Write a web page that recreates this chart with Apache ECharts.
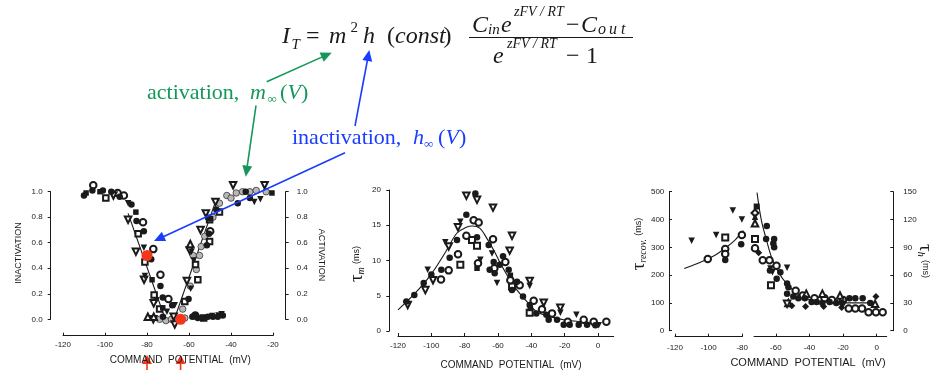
<!DOCTYPE html>
<html><head><meta charset="utf-8">
<script src="https://cdn.jsdelivr.net/npm/echarts@6/dist/echarts.min.js"></script>
<style>html,body{margin:0;padding:0;background:#fff}#c{width:935px;height:370px}</style>
</head><body><div id="c"></div>
<script>
// ---------- Panel 1: steady-state inactivation / activation ----------
const p1Ticks = [-120, -100, -80, -60, -40, -20];
const p1YTicks = [0, 0.2, 0.4, 0.6, 0.8, 1.0];
const p1FilledCircle = [[-110,0.97],[-106,1.01],[-101,1.01],[-97,1.0],[-93,0.96],[-87.4,0.90],[-85,0.77],[-81.5,0.69],[-78,0.47],[-73.6,0.26],[-72.5,0.17],[-68,0.11],
  [-72.4,0.02],[-58.4,0.02],[-55.8,0.01],[-53.4,0.01],[-51,0.02],[-48.6,0.02],[-46.3,0.02],[-43.9,0.03],
  [-60.2,0.16],[-51.5,0.58],[-50.5,0.67],[-50.2,0.79],[-47,0.86],[-36.8,0.91],[-31,0.95],[-33,1.0]];
const p1OpenCircle = [[-105.6,1.05],[-94,0.99],[-91,0.97],[-81.9,0.76],[-77,0.55],[-73.6,0.35],[-69.8,0.16],[-49.9,0.69],[-57,0.03]];
const p1OpenSquare = [[-99.6,0.95],[-84.2,0.67],[-81,0.45],[-76.6,0.19],[-74,0.08],[-62,0.14],[-55.8,0.31],[-56.9,0.43],[-50.2,0.61],[-50.2,0.78],[-45.5,0.84],[-53,0.01]];
const p1FilledSquare = [[-109,0.99],[-102.4,1.0],[-85.3,0.84],[-77.6,0.31],[-72.5,0.09],[-51,0.80],[-20.5,0.99],[-49,0.03],[-57,0.03]];
const p1FilledTriDown = [[-89,0.91],[-81.5,0.56],[-81,0.34],[-75.5,0.15],[-66.8,0.11],[-59.2,0.24],[-57.8,0.46],[-58.8,0.53],[-28.9,0.92],[-26,0.94],[-46,0.03],[-44.5,0.04],[-70.5,0.06]];
const p1OpenTriDown = [[-96,0.97],[-89,0.78],[-85.3,0.53],[-81.4,0.31],[-76.8,0.125],[-66.8,-0.04],[-67.3,0.02],[-61,0.30],[-59.7,0.54],[-54.5,0.70],[-52,0.83],[-47.4,0.92],[-39,1.05],[-24,1.05],[-77,0.0]];
const p1OpenTriUp = [[-79.6,0.02],[-76.8,0.02],[-59.4,0.59]];
const p1Hatched = [[-74,0.0],[-71,-0.01],[-68.4,0.0],[-65.3,0.0],[-62,0.01],[-63,0.08],[-59.4,0.26],[-56.5,0.39],[-58,0.50],[-55,0.50],[-54.2,0.57],[-52.5,0.65],[-48.6,0.80],[-45.5,0.91],[-42,0.97],[-40,0.95],[-37.5,0.99],[-34.5,1.0],[-31,1.0],[-28,1.01],[-23.3,1.0]];
const p1Red = [[-80,0.5],[-64,0.0]];
const p1InactFit = [[-89,0.83],[-71.3,0]];
const p1ActFit = [[-67,0],[-47,0.94]];
const p1Arrows = [-80, -64];

// ---------- Panel 2: tau_m ----------
const p2Ticks = [-120, -100, -80, -60, -40, -20, 0];
const p2YTicks = [0, 5, 10, 15, 20];
const p2FilledCircle = [[-115,4.2],[-110.2,5.1],[-104.6,6.8],[-100,8.0],[-94,8.7],[-89,10.4],[-84.6,12.9],[-79,16.5],[-73.6,19.5],[-72.6,13.3],[-65.6,12.2],[-62.6,9.8],[-65,8.7],[-62,8.2],[-57,10.6],[-59,9.4],[-53.6,8.7],[-51.6,5.8],[-48.6,7.0],[-45,4.9],[-41,3.7],[-37,2.5],[-31,2.3],[-29.6,1.6],[-24.6,1.6],[-20.6,0.9],[-17,0.9],[-11.6,0.9],[-6.6,0.9],[-1.6,0.8]];
const p2OpenCircle = [[-94.2,7.3],[-89.6,8.6],[-84,10.9],[-79,13.5],[-74.6,15.7],[-71.6,15.4],[-72,9.6],[-63,13.0],[-62.2,8.9],[-55.6,9.8],[-52.6,7.2],[-47,6.5],[-38.6,4.3],[-33.6,3.1],[-27.6,2.5],[-18.2,1.3],[-8.6,1.6],[-2.6,1.3],[5,1.3]];
const p2OpenSquare = [[-82.6,9.4],[-75.6,12.9],[-72.6,12.1],[-51.6,6.3],[-41,2.6]];
const p2FilledSquare = [[-72.6,8.9],[-52.6,7.9],[-40.6,3.2]];
const p2FilledTriDown = [[-102.2,8.7],[-91.6,12.6],[-82.6,15.5],[-70.6,10.1],[-63.6,11.0],[-60.6,6.8],[-41,6.4],[-22.6,2.6],[-13,2.3],[0.4,0.8]];
const p2OpenTriDown = [[-114.2,3.7],[-103.6,5.8],[-99,7.2],[-89.6,12.0],[-84,14.7],[-79,19.2],[-72.6,18.6],[-63,17.5],[-51.6,13.5],[-53,11.4],[-41,7.1],[-32.6,4.0],[-22.6,3.3]];
const p2Fit = [[-120,3.0],[-110,5.3],[-100.6,7.9],[-92,11.0],[-84.6,13.9],[-79,14.7],[-75.6,14.9],[-71,14.6],[-66.6,13.1],[-62,11.2],[-58.6,9.6],[-53,7.3],[-48.6,5.8],[-42,4.0],[-36.6,2.7],[-28,2.0],[-20.6,1.6],[-10,1.3],[0,1.1]];

// ---------- Panel 3: tau_recov (left, ms) and tau_h (right, ms) ----------
const p3LeftTicks = [-120, -100, -80];
const p3RightTicks = [-60, -40, -20, 0];
const p3LeftYTicks = [0, 100, 200, 300, 400, 500];
const p3RightYTicks = [0, 30, 60, 90, 120, 150];
const p3RecovFilledTriDown = [[-110.1,324],[-95.5,344],[-85.6,432],[-80.2,400]];
const p3RecovOpenCircle = [[-100.5,258],[-90.1,294],[-90.1,276],[-80.2,344]];
const p3RecovOpenSquare = [[-90.1,335]];
const p3RecovFilledCircle = [[-90.1,254],[-80.6,311]];
const p3RecovFit = [[-114.5,224],[-107,241],[-100,260],[-95,276],[-89,302],[-84,328],[-79.3,360]];
const p3HFilledCircle = [[-65.4,113],[-65.8,99],[-61,99],[-61,90],[-61.5,94],[-63.5,65],[-57.3,63],[-59.5,56],[-53.3,51],[-52.5,47],[-53.3,40],[-49.6,37],[-46.6,35],[-42.7,35],[-38.7,31],[-35.7,31],[-32.3,30],[-28,31],[-24,30],[-20.5,30],[-16.2,35],[-12.7,35],[-8.3,35],[-3.8,30]];
const p3HOpenCircle = [[-72.4,89],[-67.8,76],[-63.8,76],[-59.6,70],[-48.2,43],[-44,38],[-37,35],[-31,35],[-26.6,33],[-20,33],[-16.6,24],[-12.7,24],[-8.7,24],[-4.8,20],[-0.4,20],[3.6,20]];
const p3HOpenSquare = [[-72.4,99],[-62.9,49]];
const p3HFilledSquare = [[-71.4,134]];
const p3HOpenDiamond = [[-72.4,127]];
const p3HFilledTriUp = [[-72.4,123]];
const p3HOpenTriUp = [[-72.4,116],[-41.9,40],[-32.3,40],[-21.8,38],[-0.9,29],[-52.5,30]];
const p3HFilledTriDown = [[-63.2,67],[-53.3,68],[-62,63]];
const p3HOpenTriDown = [[-53.3,29]];
const p3HFilledDiamond = [[-70.2,84],[-50.5,27],[-42.3,26],[-31.5,26],[-20.8,25],[-0.4,37]];
const p3HFit = [[-71.2,149],[-68.6,119],[-65.6,98],[-62.7,80],[-58.7,64],[-53.7,51],[-45.8,38],[-35.9,32],[-18,30],[-0.2,30]];

// ---------- chart ----------
const INK = '#1a1a1a';
const SANS = '"Liberation Sans", Arial, sans-serif';
const SERIF = '"Liberation Serif", "Times New Roman", serif';
const GREEN = '#13985a', BLUE = '#1a3cff', RED = '#f5361c';

function xAx(grid, min, max, offset, margin, ticks) {
  return { type: 'value', gridIndex: grid, min, max, offset,
    axisLine: { show: true, onZero: false, lineStyle: { color: INK, width: 1 } },
    axisTick: { show: true, inside: true, length: 3, customValues: ticks, lineStyle: { color: INK } },
    axisLabel: { customValues: ticks, fontSize: 8, margin, color: INK, fontFamily: SANS },
    splitLine: { show: false } };
}
function yAx(grid, pos, min, max, offset, margin, ticks, inside, fmt) {
  return { type: 'value', gridIndex: grid, position: pos, min, max, offset,
    axisLine: { show: true, onZero: false, lineStyle: { color: INK, width: 1 } },
    axisTick: { show: true, inside: inside, length: 3, customValues: ticks, lineStyle: { color: INK } },
    axisLabel: { customValues: ticks, fontSize: 8, margin, color: INK, fontFamily: SANS, formatter: fmt },
    splitLine: { show: false } };
}
function sc(data, xi, yi, symbol, opt) {
  opt = opt || {};
  return { type: 'scatter', data, xAxisIndex: xi, yAxisIndex: yi, symbol,
    symbolSize: opt.size || 6, symbolRotate: opt.rot || 0, clip: false, silent: true,
    z: opt.z || 2,
    itemStyle: Object.assign({ color: INK, borderColor: INK, borderWidth: symbol.indexOf('empty') === 0 ? 1 : 0, opacity: 1 }, opt.style || {}) };
}
function ln(data, xi, yi, smooth) {
  return { type: 'line', data, xAxisIndex: xi, yAxisIndex: yi, symbol: 'none', smooth: smooth || 0,
    silent: true, clip: false, z: 1, lineStyle: { color: INK, width: 1.1 } };
}
const hatch = { color: '#b8b8b8', borderColor: '#333', borderWidth: 0.8 };

const option = {
  animation: false,
  backgroundColor: '#fff',
  grid: [
    { left: 63, top: 191.7, width: 210, height: 127.6 },
    { left: 398, top: 190, width: 215.7, height: 141 },
    { left: 675, top: 191.7, width: 67.2, height: 139 },
    { left: 754, top: 191.7, width: 132.7, height: 139 }
  ],
  xAxis: [
    xAx(0, -120, -20, 16.4, 5, p1Ticks),
    xAx(1, -120, 9.4, 5, 5.5, p2Ticks),
    xAx(2, -120, -80, 6, 7.5, p3LeftTicks),
    xAx(3, -73, 6, 6, 7.5, p3RightTicks)
  ],
  yAxis: [
    yAx(0, 'left', 0, 1, 12.3, 8, p1YTicks, false, v => v.toFixed(1)),
    yAx(0, 'right', 0, 1, 12.7, 11, p1YTicks, false, v => v.toFixed(1)),
    yAx(1, 'left', 0, 20, 8.7, 8.3, p2YTicks, false),
    yAx(2, 'left', 0, 500, 6, 4.7, p3LeftYTicks, true),
    yAx(3, 'right', 0, 150, 6.6, 10, p3RightYTicks, true)
  ],
  series: [
    ln(p1InactFit, 0, 0), ln(p1ActFit, 0, 0),
    sc(p1Hatched, 0, 0, 'circle', { style: hatch, size: 6.5 }),
    sc(p1OpenSquare, 0, 0, 'emptyRect', { size: 5.5 }),
    sc(p1OpenCircle, 0, 0, 'emptyCircle', { size: 6.5 }),
    sc(p1OpenTriDown, 0, 0, 'emptyTriangle', { rot: 180, size: 6.5 }),
    sc(p1OpenTriUp, 0, 0, 'emptyTriangle', { size: 6.5 }),
    sc(p1FilledSquare, 0, 0, 'rect', { size: 5.5 }),
    sc(p1FilledTriDown, 0, 0, 'triangle', { rot: 180, size: 6.5 }),
    sc(p1FilledCircle, 0, 0, 'circle', { size: 6.5 }),
    sc(p1Red, 0, 0, 'circle', { size: 11, z: 5, style: { color: RED, borderWidth: 0 } }),

    ln(p2Fit, 1, 2, 0.35),
    sc(p2OpenSquare, 1, 2, 'emptyRect', { size: 6 }),
    sc(p2OpenCircle, 1, 2, 'emptyCircle', { size: 6.5 }),
    sc(p2OpenTriDown, 1, 2, 'emptyTriangle', { rot: 180, size: 6.5 }),
    sc(p2FilledSquare, 1, 2, 'rect', { size: 5.5 }),
    sc(p2FilledTriDown, 1, 2, 'triangle', { rot: 180, size: 6.5 }),
    sc(p2FilledCircle, 1, 2, 'circle', { size: 6.5 }),

    ln(p3RecovFit, 2, 3, 0.3),
    sc(p3RecovOpenSquare, 2, 3, 'emptyRect', { size: 6 }),
    sc(p3RecovOpenCircle, 2, 3, 'emptyCircle', { size: 6.5 }),
    sc(p3RecovFilledTriDown, 2, 3, 'triangle', { rot: 180, size: 6.5 }),
    sc(p3RecovFilledCircle, 2, 3, 'circle', { size: 6.5 }),

    ln(p3HFit, 3, 4, 0.35),
    sc(p3HOpenCircle, 3, 4, 'emptyCircle', { size: 6.5 }),
    sc(p3HOpenSquare, 3, 4, 'emptyRect', { size: 6 }),
    sc(p3HOpenDiamond, 3, 4, 'emptyDiamond', { size: 7 }),
    sc(p3HOpenTriUp, 3, 4, 'emptyTriangle', { size: 6.5 }),
    sc(p3HOpenTriDown, 3, 4, 'emptyTriangle', { rot: 180, size: 6.5 }),
    sc(p3HFilledSquare, 3, 4, 'rect', { size: 6 }),
    sc(p3HFilledTriUp, 3, 4, 'triangle', { size: 6.5 }),
    sc(p3HFilledTriDown, 3, 4, 'triangle', { rot: 180, size: 6.5 }),
    sc(p3HFilledDiamond, 3, 4, 'diamond', { size: 7 }),
    sc(p3HFilledCircle, 3, 4, 'circle', { size: 6.5 })
  ]
};

const chart = echarts.init(document.getElementById('c'), null, { renderer: 'canvas', width: 935, height: 370 });
chart.setOption(option);

// ---------- annotations (equation, labels, arrows, axis titles) ----------
function T(text, x, base, size, italic, color, family) {
  return { type: 'text', x: x, y: base - 0.34 * size, z: 20, silent: true,
    style: { text, fill: color || INK, font: (italic ? 'italic ' : '') + size + 'px ' + (family || SERIF),
      align: 'left', verticalAlign: 'middle' } };
}
function C(text, x, y, size, rot, color, family) {
  return { type: 'text', x, y, rotation: rot || 0, z: 20, silent: true,
    style: { text, fill: color || INK, font: size + 'px ' + (family || SANS), align: 'center', verticalAlign: 'middle' } };
}
function arrow(x1, y1, x2, y2, color, len, hw, w) {
  len = len || 11; hw = hw || 5; w = w || 1.6;
  const dx = x2 - x1, dy = y2 - y1, L = Math.hypot(dx, dy), ux = dx / L, uy = dy / L;
  const bx = x2 - ux * len, by = y2 - uy * len;
  return [
    { type: 'line', z: 20, silent: true, shape: { x1, y1, x2: bx + ux * 2, y2: by + uy * 2 }, style: { stroke: color, lineWidth: w } },
    { type: 'polygon', z: 20, silent: true, shape: { points: [[x2, y2], [bx - uy * hw, by + ux * hw], [bx + uy * hw, by - ux * hw]] }, style: { fill: color } }
  ];
}
function rich(text, x, y, rot, richDef) {
  return { type: 'text', x, y, rotation: rot, z: 20, silent: true,
    style: { text, rich: richDef, align: 'center', verticalAlign: 'middle', fill: INK } };
}

const g = [];
// equation
g.push(T('I', 282, 45, 24, true));
g.push(T('T', 291.5, 50, 15, true));
g.push(T('=', 306, 45, 24, false));
g.push(T('m', 329, 45, 24, true));
g.push(T('2', 350.5, 33, 15, false));
g.push(T('h', 363, 45, 24, true));
g.push(T('(', 387, 45, 24, false));
g.push(T('const', 395, 45, 24, true));
g.push(T(')', 443.5, 45, 24, false));
g.push(T('C', 472, 33.5, 24, true));
g.push(T('in', 488, 35.5, 15, true));
g.push(T('e', 501, 33.5, 24, true));
g.push(T('zFV / RT', 514, 17.5, 14, true));
g.push(T('\u2212', 566, 33.5, 24, false));
g.push(T('C', 581, 33.5, 24, true));
g.push(T('o', 598, 35.5, 16, true));
g.push(T('u', 609, 35.5, 16, true));
g.push(T('t', 621, 35.5, 16, true));
g.push({ type: 'line', z: 20, silent: true, shape: { x1: 469, y1: 37.5, x2: 633, y2: 37.5 }, style: { stroke: INK, lineWidth: 1 } });
g.push(T('e', 493, 64.5, 24, true));
g.push(T('zFV / RT', 507, 49.5, 14, true));
g.push(T('\u2212', 566, 64.5, 24, false));
g.push(T('1', 586, 64.5, 24, false));
// activation / inactivation labels
g.push(T('activation,', 147, 101, 22, false, GREEN));
g.push(T('m', 250, 101, 22, true, GREEN));
g.push(T('\u221E', 267.5, 104, 13, false, GREEN));
g.push(T('(', 280, 101, 22, false, GREEN));
g.push(T('V', 287.5, 101, 22, true, GREEN));
g.push(T(')', 301, 101, 22, false, GREEN));
g.push(T('inactivation,', 292, 146, 22, false, BLUE));
g.push(T('h', 413, 146, 22, true, BLUE));
g.push(T('\u221E', 424, 149, 13, false, BLUE));
g.push(T('(', 438, 146, 22, false, BLUE));
g.push(T('V', 445.5, 146, 22, true, BLUE));
g.push(T(')', 459, 146, 22, false, BLUE));
// arrows
g.push(...arrow(266.7, 81.7, 331.7, 52.7, GREEN));
g.push(...arrow(256, 105.5, 245.7, 176.7, GREEN));
g.push(...arrow(355, 126, 369.3, 50, BLUE));
g.push(...arrow(345, 152.7, 154, 241, BLUE));
// red arrows under panel 1 command potentials
p1Arrows.forEach(v => {
  const px = chart.convertToPixel({ xAxisIndex: 0 }, v);
  g.push(...arrow(px, 370, px, 355, RED, 9, 5, 1.6));
});
// axis titles
g.push(C('INACTIVATION', 18.5, 253, 9, Math.PI / 2));
g.push(C('ACTIVATION', 321.7, 255, 9, -Math.PI / 2));
g.push(C('COMMAND  POTENTIAL  (mV)', 180.3, 360, 10, 0));
g.push(C('COMMAND  POTENTIAL  (mV)', 511, 365, 10, 0));
g.push(C('COMMAND  POTENTIAL  (mV)', 808, 362.7, 11, 0));
const tauRich = {
  t: { fontSize: 19, fontFamily: SERIF, fill: INK },
  s: { fontSize: 10, fontFamily: SERIF, fontStyle: 'italic', fill: INK, verticalAlign: 'bottom', padding: [6, 0, 0, 0] },
  p: { fontSize: 9, fontFamily: SANS, fill: INK }
};
g.push(rich('{t|\u03C4}{s|m} {p|(ms)}', 357, 264, Math.PI / 2, tauRich));
g.push(rich('{t|\u03C4}{s|recov.} {p|(ms)}', 639, 244, Math.PI / 2, tauRich));
g.push(rich('{t|\u03C4}{s|h} {p|(ms)}', 925, 261, -Math.PI / 2, tauRich));

chart.setOption({ graphic: g });
</script></body></html>
